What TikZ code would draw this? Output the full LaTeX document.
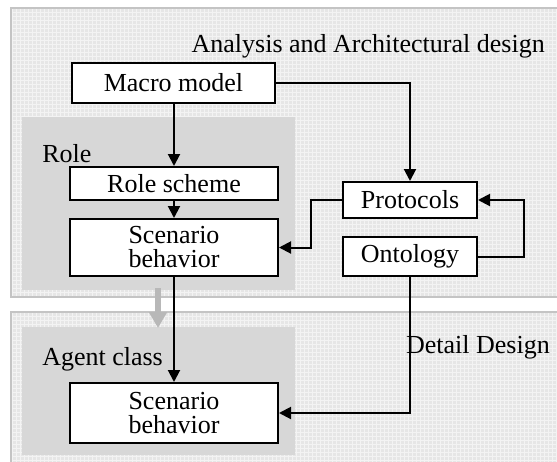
\documentclass[tikz,border=0pt]{standalone}
\usepackage{fontspec}
\setmainfont{Liberation Serif}
\usetikzlibrary{arrows.meta}
\definecolor{panelbg}{HTML}{E6E6E6}
\definecolor{panelline}{HTML}{C4C4C4}
\definecolor{groupbg}{HTML}{D7D7D7}
\definecolor{flowgray}{HTML}{B8B8B8}
\tikzset{
  box/.style={draw=black, line width=1.5pt, fill=white, inner sep=0pt,
    font=\fontsize{19.5}{18}\selectfont, align=center},
  link/.style={line width=1.5pt, -{Triangle[length=9pt,width=9pt]}},
  caption/.style={font=\fontsize{19.5}{18}\selectfont, inner sep=0pt},
}
\begin{document}
\begin{tikzpicture}[x=0.75pt, y=-0.75pt]
\useasboundingbox (0,0) rectangle (557,461);
\clip (0,0) rectangle (557,461);

% phase panels with fine grid texture
\fill[panelbg] (11,8) rectangle (570,297);
\fill[panelbg] (11,312) rectangle (570,470);
\begin{scope}
  \clip (11,8) rectangle (570,297) (11,312) rectangle (570,470);
  \draw[white, line width=0.35pt, opacity=0.55] (11,8) grid[step=3pt] (570,470);
\end{scope}
\draw[panelline, line width=1.6pt] (570,8) -- (11,8) -- (11,297) -- (570,297);
\draw[panelline, line width=1.6pt] (570,312) -- (11,312) -- (11,470);

% grouping areas
\fill[groupbg] (22,117) rectangle (295,290);
\fill[groupbg] (22,327) rectangle (295,455);

% transition between phases
\draw[flowgray, line width=4pt, -{Triangle[length=12pt,width=13pt]}] (158,288) -- (158,328);

% titles
\node[caption, anchor=base east] (titleA) at (545,52) {Analysis and Architectural design};
\node[caption, anchor=base east] (titleD) at (550,353) {Detail Design};
\node[caption, anchor=base west] (roleLbl) at (42,162) {Role};
\node[caption, anchor=base west] (agentLbl) at (42,365) {Agent class};

% boxes
\node[box, minimum width=152.25pt, minimum height=30pt] (macro) at (173.5,83) {Macro model};
\node[box, minimum width=156pt, minimum height=24.75pt] (rolesch) at (174,183.5) {Role scheme};
\node[box, minimum width=156pt, minimum height=42.75pt] (scenA) at (174,247.5) {Scenario\\behavior};
\node[box, minimum width=156pt, minimum height=45pt] (scenB) at (174,413) {Scenario\\behavior};
\node[box, minimum width=100.5pt, minimum height=27pt] (proto) at (410,200) {Protocols};
\node[box, minimum width=100.5pt, minimum height=29.25pt] (onto) at (410,256.5) {Ontology};

% connectors
\draw[link] (macro.south -| rolesch.north) -- (rolesch.north);
\draw[link] (rolesch.south) -- (scenA.north);
\draw[link] (macro.east) -| (proto.north);
\draw[link] (proto.west) -- ++(-31,0) |- (scenA.east);
\draw[link] (onto.east) -- ++(46,0) |- (proto.east);
\draw[link] (scenA.south) -- (scenB.north);
\draw[link] (onto.south) |- (scenB.east);
\end{tikzpicture}
\end{document}
